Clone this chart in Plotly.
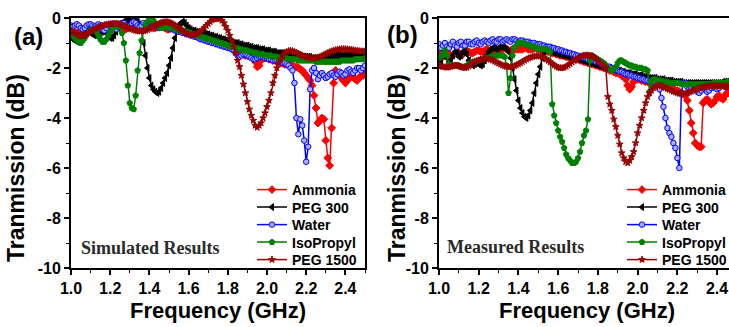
import plotly.graph_objects as go

# Frequency grid (GHz), 0.01 GHz step, 1.00 .. 2.50
FREQ = [round(1.0 + 0.01 * i, 2) for i in range(151)]

SERIES_NAMES = ["Ammonia", "PEG 300", "Water", "IsoPropyl", "PEG 1500"]

# ---------------- (a) Simulated results (dB) ----------------
AMMONIA_SIM = [
    -0.5, -0.55, -0.6, -0.6, -0.55, -0.5, -0.45, -0.4, -0.4, -0.45,
    -0.5, -0.55, -0.55, -0.5, -0.45, -0.4, -0.35, -0.35, -0.4, -0.45,
    -0.45, -0.4, -0.35, -0.3, -0.3, -0.35, -0.4, -0.45, -0.45, -0.4,
    -0.35, -0.3, -0.3, -0.35, -0.4, -0.45, -0.45, -0.4, -0.35, -0.3,
    -0.3, -0.35, -0.4, -0.4, -0.35, -0.3, -0.3, -0.35, -0.4, -0.45,
    -0.45, -0.4, -0.4, -0.45, -0.5, -0.5, -0.5, -0.55, -0.55, -0.6,
    -0.6, -0.65, -0.65, -0.7, -0.7, -0.75, -0.75, -0.8, -0.8, -0.85,
    -0.85, -0.9, -0.9, -0.95, -0.95, -1.0, -1.0, -1.05, -1.05, -1.1,
    -1.1, -1.15, -1.15, -1.2, -1.25, -1.3, -1.35, -1.4, -1.45, -1.5,
    -1.5, -1.5, -1.55, -1.6, -1.75, -1.95, -1.9, -1.7, -1.6, -1.6,
    -1.6, -1.65, -1.65, -1.7, -1.7, -1.75, -1.75, -1.8, -1.8, -1.85,
    -1.85, -1.85, -1.9, -1.9, -1.95, -1.95, -2.0, -2.05, -2.1, -2.2,
    -2.3, -2.4, -2.5, -2.7, -3.1, -3.6, -4.2, -4.1, -4.0, -4.05,
    -4.9, -5.6, -5.9, -4.4, -2.6, -2.1, -2.2, -2.3, -2.4, -2.5,
    -2.6, -2.5, -2.4, -2.3, -2.35, -2.45, -2.5, -2.4, -2.3, -2.3,
    -2.25,
]
PEG300_SIM = [
    -0.75, -0.85, -0.9, -0.95, -0.9, -0.8, -0.7, -0.6, -0.55, -0.55,
    -0.6, -0.65, -0.7, -0.7, -0.65, -0.6, -0.55, -0.55, -0.6, -0.7,
    -0.8, -0.8, -0.7, -0.55, -0.4, -0.3, -0.2, -0.15, -0.1, -0.1,
    -0.1, -0.05, -0.05, -0.1, -0.15, -0.25, -0.5, -1.0, -1.5, -2.0,
    -2.4, -2.7, -2.85, -2.95, -3.0, -2.95, -2.8, -2.6, -2.4, -2.2,
    -1.9, -1.6, -1.2, -0.8, -0.5, -0.3, -0.2, -0.15, -0.2, -0.3,
    -0.4, -0.45, -0.5, -0.5, -0.55, -0.55, -0.6, -0.6, -0.6, -0.65,
    -0.65, -0.7, -0.7, -0.75, -0.75, -0.8, -0.8, -0.85, -0.85, -0.9,
    -0.9, -0.95, -0.95, -1.0, -1.0, -1.0, -1.05, -1.05, -1.1, -1.1,
    -1.1, -1.15, -1.15, -1.2, -1.2, -1.2, -1.25, -1.25, -1.25, -1.3,
    -1.3, -1.3, -1.35, -1.35, -1.35, -1.4, -1.4, -1.4, -1.4, -1.45,
    -1.45, -1.45, -1.45, -1.5, -1.5, -1.5, -1.5, -1.5, -1.55, -1.55,
    -1.55, -1.55, -1.55, -1.6, -1.6, -1.6, -1.6, -1.6, -1.6, -1.6,
    -1.55, -1.55, -1.55, -1.55, -1.5, -1.5, -1.5, -1.5, -1.5, -1.5,
    -1.5, -1.5, -1.5, -1.5, -1.45, -1.45, -1.45, -1.45, -1.45, -1.45,
    -1.45,
]
WATER_SIM = [
    -0.3, -0.35, -0.3, -0.25, -0.3, -0.4, -0.45, -0.4, -0.3, -0.25,
    -0.25, -0.3, -0.35, -0.3, -0.25, -0.3, -0.45, -0.5, -0.4, -0.3,
    -0.25, -0.3, -0.4, -0.45, -0.35, -0.25, -0.2, -0.2, -0.3, -0.35,
    -0.3, -0.2, -0.15, -0.2, -0.3, -0.35, -0.3, -0.2, -0.25, -0.35,
    -0.4, -0.35, -0.3, -0.3, -0.35, -0.4, -0.35, -0.3, -0.3, -0.35,
    -0.4, -0.45, -0.45, -0.5, -0.5, -0.55, -0.55, -0.6, -0.6, -0.65,
    -0.65, -0.7, -0.7, -0.75, -0.75, -0.8, -0.85, -0.85, -0.9, -0.9,
    -0.95, -0.95, -1.0, -1.0, -1.05, -1.05, -1.1, -1.1, -1.15, -1.15,
    -1.2, -1.2, -1.25, -1.3, -1.4, -1.5, -1.55, -1.5, -1.45, -1.45,
    -1.5, -1.55, -1.6, -1.65, -1.65, -1.6, -1.55, -1.55, -1.55, -1.6,
    -1.6, -1.65, -1.65, -1.7, -1.7, -1.7, -1.75, -1.75, -1.8, -1.8,
    -1.85, -1.9, -2.0, -2.1, -2.6, -4.0, -4.65, -4.05, -4.3, -4.9,
    -5.75, -5.15, -2.85, -2.1, -2.0, -2.2, -2.45, -2.3, -2.2, -2.3,
    -2.4, -2.35, -2.25, -2.2, -2.3, -2.35, -2.25, -2.15, -2.2, -2.3,
    -2.25, -2.1, -2.05, -2.15, -2.2, -2.1, -2.0, -2.0, -2.1, -2.0,
    -1.9,
]
ISO_SIM = [
    -0.6, -0.7, -0.8, -0.9, -0.95, -1.0, -0.9, -0.8, -0.65, -0.55,
    -0.5, -0.45, -0.5, -0.55, -0.7, -0.85, -0.95, -0.95, -0.85, -0.7,
    -0.55, -0.45, -0.35, -0.3, -0.3, -0.35, -0.6, -1.0, -1.7, -2.7,
    -3.4, -3.6, -3.65, -3.1, -2.1, -1.4, -0.9, -0.5, -0.3, -0.15,
    -0.05, -0.05, -0.1, -0.2, -0.3, -0.35, -0.4, -0.4, -0.35, -0.35,
    -0.35, -0.4, -0.4, -0.45, -0.45, -0.5, -0.5, -0.5, -0.55, -0.55,
    -0.6, -0.6, -0.65, -0.65, -0.7, -0.7, -0.75, -0.75, -0.8, -0.8,
    -0.85, -0.85, -0.9, -0.9, -0.95, -0.95, -1.0, -1.0, -1.05, -1.05,
    -1.1, -1.1, -1.15, -1.15, -1.2, -1.2, -1.25, -1.25, -1.3, -1.3,
    -1.3, -1.35, -1.35, -1.4, -1.4, -1.4, -1.45, -1.45, -1.45, -1.5,
    -1.5, -1.5, -1.5, -1.55, -1.55, -1.55, -1.6, -1.6, -1.6, -1.6,
    -1.6, -1.65, -1.65, -1.65, -1.65, -1.65, -1.7, -1.7, -1.7, -1.7,
    -1.7, -1.7, -1.7, -1.7, -1.7, -1.75, -1.75, -1.75, -1.75, -1.75,
    -1.75, -1.75, -1.75, -1.75, -1.75, -1.75, -1.75, -1.75, -1.7, -1.7,
    -1.7, -1.7, -1.7, -1.7, -1.7, -1.65, -1.65, -1.65, -1.65, -1.65,
    -1.6,
]
PEG1500_SIM = [
    -0.5, -0.55, -0.6, -0.65, -0.7, -0.72, -0.72, -0.7, -0.65, -0.6,
    -0.55, -0.5, -0.45, -0.4, -0.37, -0.34, -0.31, -0.28, -0.26, -0.25,
    -0.24, -0.23, -0.22, -0.22, -0.23, -0.25, -0.28, -0.31, -0.35, -0.39,
    -0.42, -0.45, -0.48, -0.5, -0.52, -0.53, -0.53, -0.52, -0.5, -0.47,
    -0.43, -0.39, -0.35, -0.3, -0.26, -0.22, -0.19, -0.17, -0.16, -0.16,
    -0.17, -0.2, -0.24, -0.29, -0.35, -0.41, -0.47, -0.53, -0.58, -0.62,
    -0.65, -0.67, -0.68, -0.67, -0.64, -0.6, -0.54, -0.47, -0.39, -0.31,
    -0.23, -0.15, -0.09, -0.05, -0.03, -0.02, -0.04, -0.1, -0.2, -0.35,
    -0.5, -0.7, -0.9, -1.15, -1.4, -1.7, -1.95, -2.3, -2.65, -3.0,
    -3.35, -3.65, -3.9, -4.1, -4.3, -4.38, -4.3, -4.2, -4.0, -3.8,
    -3.55, -3.3, -3.0, -2.6, -2.3, -2.0, -1.8, -1.65, -1.5, -1.4,
    -1.35, -1.32, -1.3, -1.32, -1.35, -1.38, -1.42, -1.46, -1.5, -1.53,
    -1.56, -1.58, -1.6, -1.61, -1.61, -1.6, -1.58, -1.55, -1.52, -1.48,
    -1.44, -1.4, -1.36, -1.33, -1.3, -1.28, -1.26, -1.25, -1.24, -1.24,
    -1.24, -1.25, -1.26, -1.27, -1.28, -1.3, -1.31, -1.32, -1.33, -1.33,
    -1.33,
]

# ---------------- (b) Measured results (dB) ----------------
AMMONIA_MEAS = [
    -1.4, -1.5, -1.55, -1.45, -1.35, -1.45, -1.55, -1.5, -1.4, -1.35,
    -1.4, -1.5, -1.45, -1.35, -1.3, -1.35, -1.4, -1.4, -1.35, -1.3,
    -1.3, -1.35, -1.35, -1.3, -1.25, -1.3, -1.3, -1.3, -1.25, -1.25,
    -1.3, -1.3, -1.25, -1.2, -1.25, -1.3, -1.3, -1.25, -1.25, -1.25,
    -1.25, -1.25, -1.25, -1.2, -1.2, -1.25, -1.25, -1.25, -1.2, -1.2,
    -1.25, -1.25, -1.3, -1.3, -1.3, -1.35, -1.35, -1.4, -1.4, -1.45,
    -1.45, -1.5, -1.5, -1.5, -1.55, -1.55, -1.6, -1.6, -1.6, -1.65,
    -1.65, -1.7, -1.7, -1.75, -1.75, -1.8, -1.8, -1.85, -1.85, -1.9,
    -1.9, -1.95, -1.95, -2.0, -2.0, -2.05, -2.1, -2.1, -2.15, -2.2,
    -2.2, -2.25, -2.3, -2.35, -2.45, -2.7, -2.85, -2.75, -2.55, -2.45,
    -2.45, -2.45, -2.5, -2.5, -2.55, -2.55, -2.6, -2.6, -2.6, -2.65,
    -2.65, -2.7, -2.7, -2.75, -2.75, -2.8, -2.8, -2.85, -2.85, -2.9,
    -2.9, -2.95, -3.0, -3.05, -3.1, -3.3, -3.7, -4.2, -4.6, -5.0,
    -5.1, -5.15, -5.15, -3.4, -3.3, -3.25, -3.35, -3.45, -3.4, -3.3,
    -3.15, -3.1, -3.2, -3.25, -3.1, -3.0, -3.0, -3.05, -3.0, -2.95,
    -2.9,
]
PEG300_MEAS = [
    -1.9, -1.7, -1.5, -1.45, -1.6, -1.75, -1.7, -1.5, -1.35, -1.4,
    -1.55, -1.5, -1.35, -1.3, -1.45, -1.7, -1.85, -1.9, -1.85, -1.8,
    -1.85, -1.9, -1.85, -1.7, -1.5, -1.35, -1.25, -1.2, -1.2, -1.25,
    -1.2, -1.15, -1.15, -1.2, -1.25, -1.35, -1.6, -2.0, -2.45, -2.9,
    -3.3, -3.6, -3.8, -3.95, -4.0, -3.9, -3.7, -3.4, -3.0, -2.6,
    -2.25, -1.95, -1.6, -1.35, -1.25, -1.3, -1.35, -1.35, -1.4, -1.4,
    -1.45, -1.45, -1.5, -1.5, -1.5, -1.55, -1.55, -1.6, -1.6, -1.6,
    -1.65, -1.65, -1.7, -1.7, -1.75, -1.75, -1.8, -1.8, -1.85, -1.85,
    -1.9, -1.9, -1.95, -1.95, -2.0, -2.0, -2.0, -2.05, -2.05, -2.1,
    -2.1, -2.1, -2.15, -2.15, -2.2, -2.2, -2.2, -2.25, -2.25, -2.25,
    -2.3, -2.3, -2.3, -2.35, -2.35, -2.35, -2.4, -2.4, -2.4, -2.4,
    -2.45, -2.45, -2.45, -2.45, -2.5, -2.5, -2.5, -2.5, -2.55, -2.55,
    -2.55, -2.55, -2.55, -2.6, -2.6, -2.6, -2.6, -2.6, -2.6, -2.6,
    -2.6, -2.6, -2.6, -2.6, -2.6, -2.6, -2.6, -2.6, -2.6, -2.6,
    -2.6, -2.6, -2.6, -2.55, -2.55, -2.55, -2.55, -2.55, -2.55, -2.55,
    -2.5,
]
WATER_MEAS = [
    -1.05, -1.2, -1.1, -1.0, -1.15, -1.2, -1.05, -0.95, -1.1, -1.15,
    -1.0, -0.95, -1.1, -1.1, -0.95, -0.95, -1.05, -1.05, -0.95, -0.9,
    -1.0, -1.05, -0.95, -0.9, -0.95, -1.0, -0.9, -0.85, -0.95, -0.95,
    -0.85, -0.85, -0.95, -0.9, -0.85, -0.9, -0.95, -0.85, -0.85, -0.9,
    -0.95, -0.9, -0.9, -0.95, -0.95, -0.95, -1.0, -1.0, -1.0, -1.05,
    -1.05, -1.05, -1.1, -1.1, -1.15, -1.15, -1.15, -1.2, -1.2, -1.25,
    -1.25, -1.3, -1.3, -1.35, -1.35, -1.4, -1.4, -1.45, -1.45, -1.5,
    -1.5, -1.55, -1.55, -1.6, -1.6, -1.65, -1.65, -1.7, -1.7, -1.75,
    -1.75, -1.8, -1.85, -1.85, -1.9, -1.95, -1.95, -2.0, -2.05, -2.05,
    -2.1, -2.15, -2.15, -2.2, -2.25, -2.25, -2.3, -2.3, -2.35, -2.35,
    -2.4, -2.4, -2.45, -2.45, -2.5, -2.5, -2.55, -2.55, -2.6, -2.6,
    -2.65, -2.85, -3.2, -3.55, -4.0, -4.4, -4.6, -4.75, -5.0, -5.2,
    -5.6, -6.0, -3.0, -2.6, -2.6, -2.75, -2.85, -2.8, -2.7, -2.8,
    -2.95, -3.0, -2.9, -2.8, -2.85, -2.95, -2.9, -2.8, -2.75, -2.8,
    -2.85, -2.8, -2.7, -2.7, -2.75, -2.75, -2.7, -2.65, -2.65, -2.7,
    -2.7,
]
ISO_MEAS = [
    -1.6, -1.55, -1.45, -1.3, -1.5, -1.85, -1.9, -1.9, -1.9, -1.9,
    -1.9, -1.95, -1.95, -1.95, -1.9, -1.85, -1.8, -1.75, -1.75, -1.7,
    -1.7, -1.65, -1.65, -1.6, -1.6, -1.6, -1.55, -1.55, -1.5, -1.5,
    -1.5, -1.5, -1.5, -1.55, -1.9, -3.0, -2.4, -1.5, -1.2, -1.1,
    -1.0, -1.0, -1.0, -1.05, -1.05, -1.1, -1.1, -1.15, -1.15, -1.2,
    -1.2, -1.25, -1.25, -1.25, -1.25, -1.3, -1.35, -3.45, -3.9, -4.2,
    -4.5, -4.75, -4.95, -5.2, -5.45, -5.6, -5.7, -5.8, -5.8, -5.75,
    -5.6, -5.35, -5.0, -4.7, -4.5, -4.05, -1.7, -1.5, -1.55, -1.6,
    -1.65, -1.7, -1.75, -1.8, -1.9, -2.0, -2.05, -2.1, -2.05, -1.95,
    -1.8, -1.7, -1.7, -1.75, -1.8, -1.85, -1.9, -1.9, -1.95, -1.95,
    -2.0, -2.0, -2.0, -2.05, -2.05, -2.1, -2.95, -2.55, -2.45, -2.45,
    -2.5, -2.5, -2.5, -2.55, -2.55, -2.55, -2.6, -2.6, -2.6, -2.6,
    -2.6, -2.6, -2.65, -2.65, -2.65, -2.65, -2.65, -2.65, -2.65, -2.65,
    -2.65, -2.65, -2.65, -2.65, -2.65, -2.65, -2.65, -2.65, -2.6, -2.6,
    -2.6, -2.6, -2.6, -2.6, -2.6, -2.55, -2.55, -2.55, -2.55, -2.55,
    -2.55,
]
PEG1500_MEAS = [
    -1.9, -1.92, -1.95, -1.97, -1.98, -1.97, -1.95, -1.92, -1.9, -1.9,
    -1.92, -1.95, -1.98, -2.0, -1.98, -1.93, -1.87, -1.8, -1.75, -1.72,
    -1.69, -1.66, -1.64, -1.63, -1.63, -1.64, -1.66, -1.69, -1.73, -1.77,
    -1.81, -1.85, -1.89, -1.92, -1.95, -1.96, -1.96, -1.95, -1.92, -1.88,
    -1.84, -1.8, -1.75, -1.7, -1.65, -1.61, -1.58, -1.55, -1.53, -1.52,
    -1.52, -1.53, -1.56, -1.6, -1.65, -1.71, -1.77, -1.83, -1.89, -1.94,
    -1.98, -2.0, -2.0, -1.98, -1.94, -1.89, -1.83, -1.77, -1.71, -1.65,
    -1.6, -1.56, -1.52, -1.5, -1.49, -1.49, -1.5, -1.53, -1.57, -1.63,
    -1.7, -1.78, -1.86, -1.93, -2.0, -3.15, -3.45, -3.7, -4.05, -4.35,
    -4.7, -5.05, -5.4, -5.6, -5.75, -5.8, -5.7, -5.55, -5.35, -5.0,
    -4.6, -4.3, -4.0, -3.7, -3.4, -3.15, -3.0, -2.9, -2.8, -2.75,
    -2.7, -2.7, -2.72, -2.75, -2.78, -2.82, -2.86, -2.9, -2.94, -2.97,
    -3.0, -3.02, -3.03, -3.03, -3.02, -3.0, -2.97, -2.94, -2.9, -2.87,
    -2.84, -2.81, -2.79, -2.77, -2.75, -2.74, -2.73, -2.72, -2.72, -2.72,
    -2.72, -2.72, -2.72, -2.73, -2.73, -2.73, -2.72, -2.72, -2.71, -2.7,
    -2.7,
]

X_TICKS = [1.0, 1.2, 1.4, 1.6, 1.8, 2.0, 2.2, 2.4]
X_TICK_LABELS = ["1.0", "1.2", "1.4", "1.6", "1.8", "2.0", "2.2", "2.4"]
Y_TICKS = [0, -2, -4, -6, -8, -10]
Y_TICK_LABELS = ["0", "-2", "-4", "-6", "-8", "-10"]

W, H = 729, 327
def px(x):
    return x / W
def py(y):
    return 1 - y / H

STYLES = [
    dict(color="#ff0000", symbol="diamond", size=6, mcolor="#ff0000", mline="#ff0000"),
    dict(color="#000000", symbol="triangle-left", size=6, mcolor="#000000", mline="#000000"),
    dict(color="#0000ff", symbol="circle", size=5.5, mcolor="#a8b0ff", mline="#0000ff"),
    dict(color="#008000", symbol="pentagon", size=6, mcolor="#008000", mline="#008000"),
    dict(color="#990000", symbol="star", size=5, mcolor="#990000", mline="#990000"),
]

fig = go.Figure()
SIM = [AMMONIA_SIM, PEG300_SIM, WATER_SIM, ISO_SIM, PEG1500_SIM]
MEAS = [AMMONIA_MEAS, PEG300_MEAS, WATER_MEAS, ISO_MEAS, PEG1500_MEAS]

# one single-entry legend per series so the entry spacing can match the reference
LEG_TOP = 174      # px, top of the first legend entry box
LEG_STEP = 17.5    # px between entries
LEG_X = {"a": 252, "b": 622}

legend_layout = {}
k = 0
for panel, data, xa, ya in [("a", SIM, "x", "y"), ("b", MEAS, "x2", "y2")]:
    for i, (name, vals, st) in enumerate(zip(SERIES_NAMES, data, STYLES)):
        k += 1
        lname = "legend" if k == 1 else f"legend{k}"
        legend_layout[lname] = dict(
            x=px(LEG_X[panel]), y=py(LEG_TOP + i * LEG_STEP),
            xanchor="left", yanchor="top",
            bgcolor="rgba(0,0,0,0)", borderwidth=0,
            font=dict(family="Liberation Sans", size=14, color="black", weight="bold"),
            itemwidth=30,
        )
        fig.add_trace(go.Scatter(
            x=FREQ, y=vals, name=name, mode="lines+markers",
            xaxis=xa, yaxis=ya, legend=lname,
            line=dict(color=st["color"], width=1.5),
            marker=dict(symbol=st["symbol"], size=st["size"], color=st["mcolor"],
                        line=dict(color=st["mline"], width=1)),
        ))

tickfont = dict(family="Liberation Sans", size=16, color="black", weight="bold")
common_x = dict(range=[1.0, 2.5], tickvals=X_TICKS, ticktext=X_TICK_LABELS,
                ticks="outside", ticklen=5, tickwidth=1.5, tickcolor="black",
                showline=True, linecolor="black", linewidth=2, showgrid=False,
                zeroline=False, tickfont=tickfont,
                minor=dict(dtick=0.1, tick0=1.0, ticks="outside", ticklen=3,
                           tickwidth=1.2, tickcolor="black", showgrid=False))
common_y = dict(range=[-10, 0], tickvals=Y_TICKS, ticktext=Y_TICK_LABELS,
                ticks="outside", ticklen=5, tickwidth=1.5, tickcolor="black",
                showline=True, linecolor="black", linewidth=2, showgrid=False,
                zeroline=False, tickfont=tickfont,
                minor=dict(dtick=1, tick0=0, ticks="outside", ticklen=3,
                           tickwidth=1.2, tickcolor="black", showgrid=False))

ydom = [py(268), py(18)]
fig.update_layout(
    width=W, height=H,
    margin=dict(l=0, r=0, t=0, b=0, autoexpand=False),
    paper_bgcolor="white", plot_bgcolor="white",
    xaxis=dict(common_x, domain=[px(71), px(365)], mirror=True, anchor="y"),
    yaxis=dict(common_y, domain=ydom, mirror=True, anchor="x"),
    xaxis2=dict(common_x, domain=[px(439), 1.0], range=[1.0, 2.46], mirror=True, anchor="y2"),
    yaxis2=dict(common_y, domain=ydom, mirror=False, anchor="x2"),
    showlegend=True,
    **legend_layout,
)

ann_font = dict(family="Liberation Sans", color="black", weight="bold")
anns = [
    dict(text="Frequency (GHz)", x=px(218), y=py(310), font=dict(ann_font, size=22)),
    dict(text="Frequency (GHz)", x=px(587), y=py(310), font=dict(ann_font, size=22)),
    dict(text="Tranmission (dB)", x=px(16), y=py(168), textangle=-90, font=dict(ann_font, size=23)),
    dict(text="Tranmission (dB)", x=px(397), y=py(168), textangle=-90, font=dict(ann_font, size=23)),
    dict(text="(a)", x=px(28), y=py(36), font=dict(ann_font, size=24)),
    dict(text="(b)", x=px(402), y=py(35), font=dict(ann_font, size=24)),
]
for a in anns:
    fig.add_annotation(xref="paper", yref="paper", xanchor="center", yanchor="middle",
                       showarrow=False, **a)
fig.add_annotation(text="Simulated Results", xref="paper", yref="paper", x=px(79), y=py(248),
                   xanchor="left", yanchor="middle", showarrow=False,
                   font=dict(family="Liberation Serif", size=18, color="#2a2a2a", weight="bold"))
fig.add_annotation(text="Measured Results", xref="paper", yref="paper", x=px(445), y=py(247),
                   xanchor="left", yanchor="middle", showarrow=False,
                   font=dict(family="Liberation Serif", size=18, color="#2a2a2a", weight="bold"))

fig.write_html("out.html")
